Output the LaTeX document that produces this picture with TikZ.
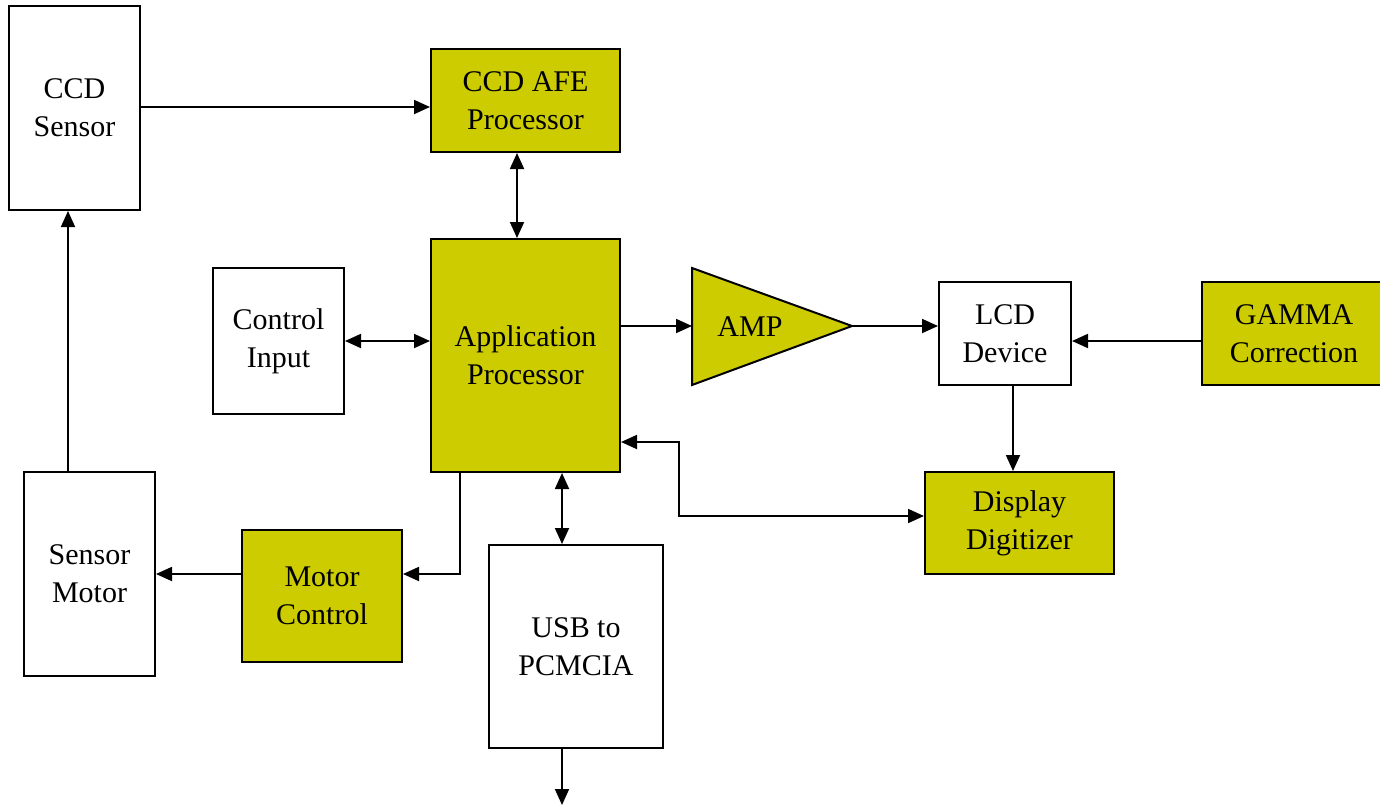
\documentclass[tikz,border=0pt]{standalone}
\usepackage{fontspec}
\setmainfont{Liberation Serif}
\usetikzlibrary{arrows.meta,shapes.geometric}
\definecolor{olive}{HTML}{CCCC00}
\begin{document}
\begin{tikzpicture}[x=0.5pt,y=-0.5pt,
  box/.style={draw=black,line width=1pt,fill=white,inner sep=0pt,
    font=\fontsize{15}{19}\selectfont,align=center},
  ybox/.style={box,fill=olive},
  conn/.style={line width=0.9pt,-{Triangle[length=8pt,width=7pt]}},
  bconn/.style={line width=0.9pt,{Triangle[length=8pt,width=7pt]}-{Triangle[length=8pt,width=7pt]}}]
\useasboundingbox (0,0) rectangle (1380,809);
\node[box,minimum width=65.5pt,minimum height=102pt] (ccd) at (74.5,108) {CCD\\Sensor};
\node[ybox,minimum width=94.5pt,minimum height=51.5pt] (afe) at (525.5,100.5) {CCD AFE\\Processor};
\node[ybox,minimum width=94.5pt,minimum height=116.5pt] (ap) at (525.5,355.5) {Application\\Processor};
\node[box,minimum width=65.5pt,minimum height=73pt] (ci) at (278.5,341) {Control\\Input};
\node[box,minimum width=66pt,minimum height=51.5pt] (lcd) at (1005,333.5) {LCD\\Device};
\node[ybox,minimum width=100pt,minimum height=51.5pt,anchor=west] (gam) at (1201,333.5) {\hspace*{-8pt}GAMMA\\\hspace*{-8pt}Correction};
\node[ybox,minimum width=94.5pt,minimum height=51pt] (dd) at (1019.5,523) {Display\\Digitizer};
\node[box,minimum width=65.5pt,minimum height=102pt] (sm) at (89.5,574) {Sensor\\Motor};
\node[ybox,minimum width=80pt,minimum height=66pt] (mc) at (322,596) {Motor\\Control};
\node[box,minimum width=87pt,minimum height=101.5pt] (usb) at (576,646.5) {USB to\\PCMCIA};
% AMP triangle
\coordinate (ampL) at (692,326);
\coordinate (ampR) at (852,326);
\draw[line width=1pt,fill=olive] (692,268) -- (852,326) -- (692,385) -- cycle;
\node[font=\fontsize{15}{19}\selectfont] (amp) at (750,327) {AMP};
\coordinate (usbout) at (562,805);
% connectors
\draw[conn] (ccd.east |- 0,107) -- (afe.west |- 0,107);
\draw[bconn] (afe.south -| 517,0) -- (ap.north -| 517,0);
\draw[bconn] (ci.east |- 0,341) -- (ap.west |- 0,341);
\draw[conn] (ap.east |- ampL) -- (ampL);
\draw[conn] (ampR) -- (lcd.west |- ampR);
\draw[conn] (gam.west |- 0,341) -- (lcd.east |- 0,341);
\draw[conn] (lcd.south -| 1013,0) -- (dd.north -| 1013,0);
\draw[bconn] (ap.east |- 0,442) -- (679,442) -- (679,516) -- (dd.west |- 0,516);
\draw[conn] (ap.south -| 460,0) -- (460,574) -- (mc.east |- 0,574);
\draw[conn] (mc.west |- 0,574) -- (sm.east |- 0,574);
\draw[conn] (sm.north -| 68,0) -- (ccd.south -| 68,0);
\draw[bconn] (ap.south -| 562,0) -- (usb.north -| 562,0);
\draw[conn] (usb.south -| 562,0) -- (usbout);
\end{tikzpicture}
\end{document}
